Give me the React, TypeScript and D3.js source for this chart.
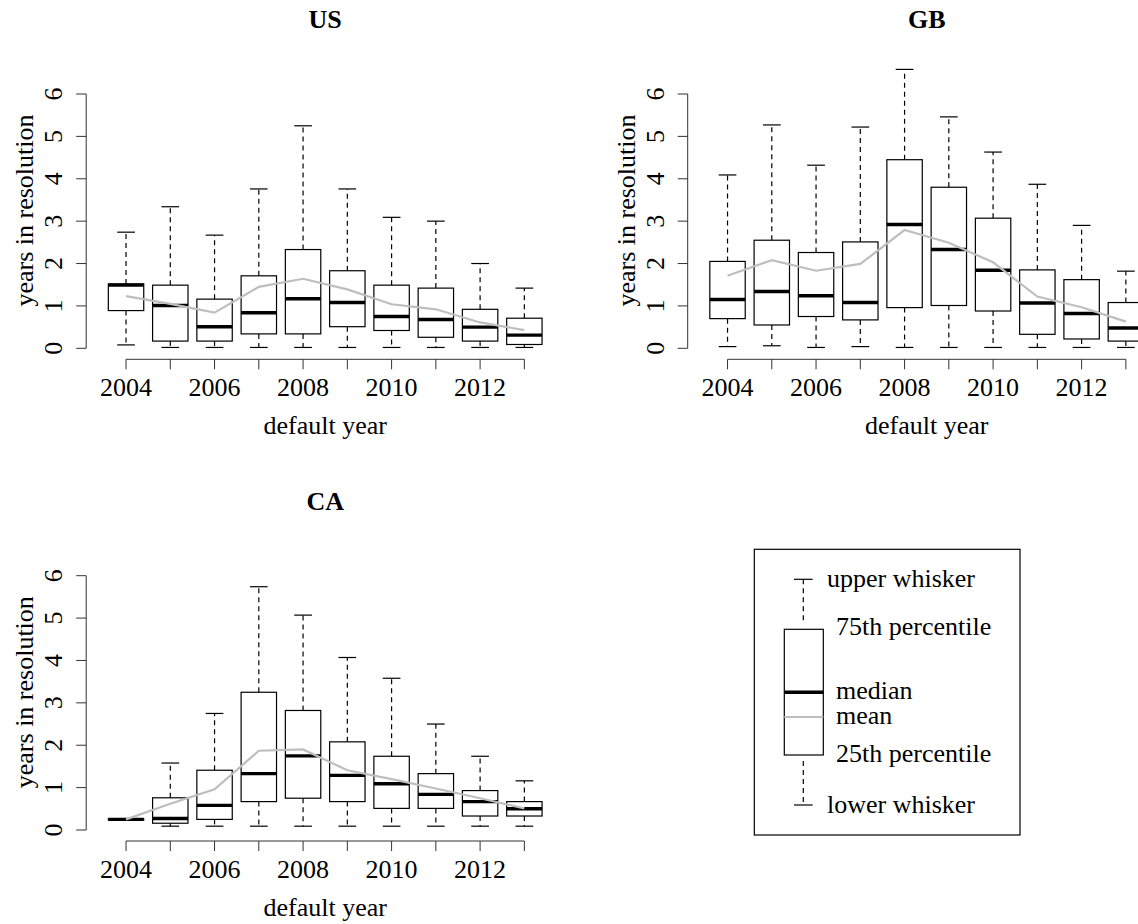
import React from "react";
import * as d3 from "d3";

// ---------- data ----------
const years = [2004, 2005, 2006, 2007, 2008, 2009, 2010, 2011, 2012, 2013];
const xTickLabelYears = [2004, 2006, 2008, 2010, 2012];
const yTicks = [0, 1, 2, 3, 4, 5, 6];

const usLower = [0.08, 0.02, 0.02, 0.02, 0.02, 0.02, 0.02, 0.02, 0.02, 0.02];
const usQ1 = [0.89, 0.17, 0.17, 0.34, 0.34, 0.51, 0.42, 0.26, 0.17, 0.09];
const usMedian = [1.49, 1.01, 0.51, 0.84, 1.17, 1.08, 0.75, 0.68, 0.5, 0.31];
const usQ3 = [1.52, 1.49, 1.16, 1.71, 2.33, 1.83, 1.49, 1.42, 0.92, 0.71];
const usUpper = [2.74, 3.34, 2.67, 3.76, 5.25, 3.76, 3.09, 3.0, 2.0, 1.42];
const usMean = [1.23, 1.05, 0.84, 1.45, 1.64, 1.39, 1.04, 0.92, 0.61, 0.43];

const gbLower = [0.04, 0.06, 0.02, 0.04, 0.02, 0.02, 0.02, 0.02, 0.02, 0.02];
const gbQ1 = [0.7, 0.55, 0.75, 0.67, 0.96, 1.01, 0.88, 0.33, 0.22, 0.17];
const gbMedian = [1.15, 1.34, 1.24, 1.08, 2.92, 2.33, 1.84, 1.07, 0.82, 0.48];
const gbQ3 = [2.05, 2.55, 2.26, 2.51, 4.45, 3.8, 3.07, 1.85, 1.62, 1.08];
const gbUpper = [4.09, 5.27, 4.32, 5.22, 6.58, 5.46, 4.63, 3.87, 2.9, 1.82];
const gbMean = [1.71, 2.08, 1.83, 1.99, 2.79, 2.49, 2.03, 1.22, 0.97, 0.63];

const caLower = [0.24, 0.09, 0.09, 0.09, 0.09, 0.09, 0.09, 0.09, 0.09, 0.09];
const caQ1 = [0.24, 0.16, 0.25, 0.67, 0.75, 0.67, 0.51, 0.51, 0.33, 0.33];
const caMedian = [0.25, 0.27, 0.58, 1.33, 1.75, 1.29, 1.09, 0.84, 0.67, 0.5];
const caQ3 = [0.26, 0.76, 1.41, 3.25, 2.82, 2.08, 1.74, 1.33, 0.93, 0.67];
const caUpper = [0.26, 1.58, 2.75, 5.74, 5.07, 4.07, 3.58, 2.5, 1.74, 1.16];
const caMean = [0.25, 0.62, 0.96, 1.87, 1.9, 1.41, 1.2, 0.98, 0.75, 0.51];

const legendLabels = [
  "upper whisker",
  "75th percentile",
  "median",
  "mean",
  "25th percentile",
  "lower whisker",
];

// ---------- style ----------
const FONT = "'Liberation Serif', 'Times New Roman', Times, serif";
const FS = 26;
const MEAN_COLOR = "#bebebe";
const AXIS_COLOR = "#333";

interface PanelProps {
  title: string;
  dx: number;
  dy: number;
  lower: number[];
  q1: number[];
  median: number[];
  q3: number[];
  upper: number[];
  mean: number[];
}

function Panel({ title, dx, dy, lower, q1, median, q3, upper, mean }: PanelProps) {
  const x = d3.scaleLinear().domain([0.1, 10.9]).range([dx + 86.2, dx + 564.2]);
  const y = d3.scaleLinear().domain([0, 6]).range([dy + 348.3, dy + 94]);
  const axisY = dy + 359.3;
  const axisX = dx + 86.2;
  const halfBox = x(1.4) - x(1);
  const halfCap = x(1.2) - x(1);

  const meanLine = d3
    .line<number>()
    .x((_, i) => x(i + 1))
    .y((d) => y(d));

  return (
    <g>
      <text
        x={(x(0.1) + x(10.9)) / 2}
        y={dy + 28}
        textAnchor="middle"
        fontFamily={FONT}
        fontSize={FS}
        fontWeight="bold"
      >
        {title}
      </text>

      {/* boxes */}
      {years.map((yr, i) => {
        const cx = x(i + 1);
        return (
          <g key={yr}>
            <line x1={cx} x2={cx} y1={y(q3[i])} y2={y(upper[i])} stroke="#000" strokeWidth={1.2} strokeDasharray="5,4" />
            <line x1={cx} x2={cx} y1={y(q1[i])} y2={y(lower[i])} stroke="#000" strokeWidth={1.2} strokeDasharray="5,4" />
            <line x1={cx - halfCap} x2={cx + halfCap} y1={y(upper[i])} y2={y(upper[i])} stroke="#000" strokeWidth={1.2} />
            <line x1={cx - halfCap} x2={cx + halfCap} y1={y(lower[i])} y2={y(lower[i])} stroke="#000" strokeWidth={1.2} />
            <rect
              x={cx - halfBox}
              y={y(q3[i])}
              width={2 * halfBox}
              height={Math.max(0, y(q1[i]) - y(q3[i]))}
              fill="#fff"
              stroke="#000"
              strokeWidth={1.2}
            />
            <line x1={cx - halfBox} x2={cx + halfBox} y1={y(median[i])} y2={y(median[i])} stroke="#000" strokeWidth={3.4} />
          </g>
        );
      })}

      {/* mean line */}
      <path d={meanLine(mean) || ""} fill="none" stroke={MEAN_COLOR} strokeWidth={2.2} />

      {/* x axis */}
      <line x1={x(1)} x2={x(10)} y1={axisY} y2={axisY} stroke={AXIS_COLOR} strokeWidth={1} />
      {years.map((yr, i) => (
        <line key={"xt" + yr} x1={x(i + 1)} x2={x(i + 1)} y1={axisY} y2={axisY + 10} stroke={AXIS_COLOR} strokeWidth={1} />
      ))}
      {xTickLabelYears.map((yr) => (
        <text
          key={"xl" + yr}
          x={x(years.indexOf(yr) + 1)}
          y={axisY + 36.5}
          textAnchor="middle"
          fontFamily={FONT}
          fontSize={FS}
        >
          {yr}
        </text>
      ))}
      <text x={(x(0.1) + x(10.9)) / 2} y={axisY + 75} textAnchor="middle" fontFamily={FONT} fontSize={FS}>
        default year
      </text>

      {/* y axis */}
      <line x1={axisX} x2={axisX} y1={y(0)} y2={y(6)} stroke={AXIS_COLOR} strokeWidth={1} />
      {yTicks.map((t) => (
        <g key={"yt" + t}>
          <line x1={axisX - 10} x2={axisX} y1={y(t)} y2={y(t)} stroke={AXIS_COLOR} strokeWidth={1} />
          <text
            transform={`translate(${dx + 62},${y(t)}) rotate(-90)`}
            textAnchor="middle"
            fontFamily={FONT}
            fontSize={FS}
          >
            {t}
          </text>
        </g>
      ))}
      <text
        transform={`translate(${dx + 33},${dy + 210.5}) rotate(-90)`}
        textAnchor="middle"
        fontFamily={FONT}
        fontSize={FS}
      >
        years in resolution
      </text>
    </g>
  );
}

function Legend() {
  const bx = 754.3;
  const by = 549.3;
  const cx = 803.3;
  const boxL = 784.3;
  const boxR = 823.3;
  const upperY = 579.3;
  const q3Y = 629.3;
  const medY = 692.3;
  const meanY = 717;
  const q1Y = 755;
  const lowerY = 805;
  const textYs = [587, 635, 699, 723.5, 762, 813];
  const textXs = [827, 836, 836, 836, 836, 827];
  return (
    <g>
      <rect x={bx} y={by} width={265.7} height={285.7} fill="#fff" stroke="#000" strokeWidth={1.2} />
      <line x1={cx} x2={cx} y1={upperY} y2={q3Y - 6} stroke="#000" strokeWidth={1.2} strokeDasharray="5,4" />
      <line x1={cx} x2={cx} y1={q1Y + 6} y2={lowerY} stroke="#000" strokeWidth={1.2} strokeDasharray="5,4" />
      <line x1={cx - 9.3} x2={cx + 9.3} y1={upperY} y2={upperY} stroke="#000" strokeWidth={1.2} />
      <line x1={cx - 9.3} x2={cx + 9.3} y1={lowerY} y2={lowerY} stroke="#000" strokeWidth={1.2} />
      <rect x={boxL} y={q3Y} width={boxR - boxL} height={q1Y - q3Y} fill="#fff" stroke="#000" strokeWidth={1.2} />
      <line x1={boxL} x2={boxR} y1={medY} y2={medY} stroke="#000" strokeWidth={3.4} />
      <line x1={boxL} x2={boxR} y1={meanY} y2={meanY} stroke={MEAN_COLOR} strokeWidth={2.2} />
      {legendLabels.map((l, i) => (
        <text key={l} x={textXs[i]} y={textYs[i]} fontFamily={FONT} fontSize={FS}>
          {l}
        </text>
      ))}
    </g>
  );
}

export default function App() {
  return (
    <svg
      width={1138}
      height={924}
      style={{ position: "absolute", left: 0, top: 0, display: "block", background: "#fff" }}
    >
      <rect x={0} y={0} width={1138} height={924} fill="#fff" />
      <Panel title="US" dx={0} dy={0} lower={usLower} q1={usQ1} median={usMedian} q3={usQ3} upper={usUpper} mean={usMean} />
      <Panel title="GB" dx={601.5} dy={0} lower={gbLower} q1={gbQ1} median={gbMedian} q3={gbQ3} upper={gbUpper} mean={gbMean} />
      <Panel title="CA" dx={0} dy={481.7} lower={caLower} q1={caQ1} median={caMedian} q3={caQ3} upper={caUpper} mean={caMean} />
      <Legend />
    </svg>
  );
}
